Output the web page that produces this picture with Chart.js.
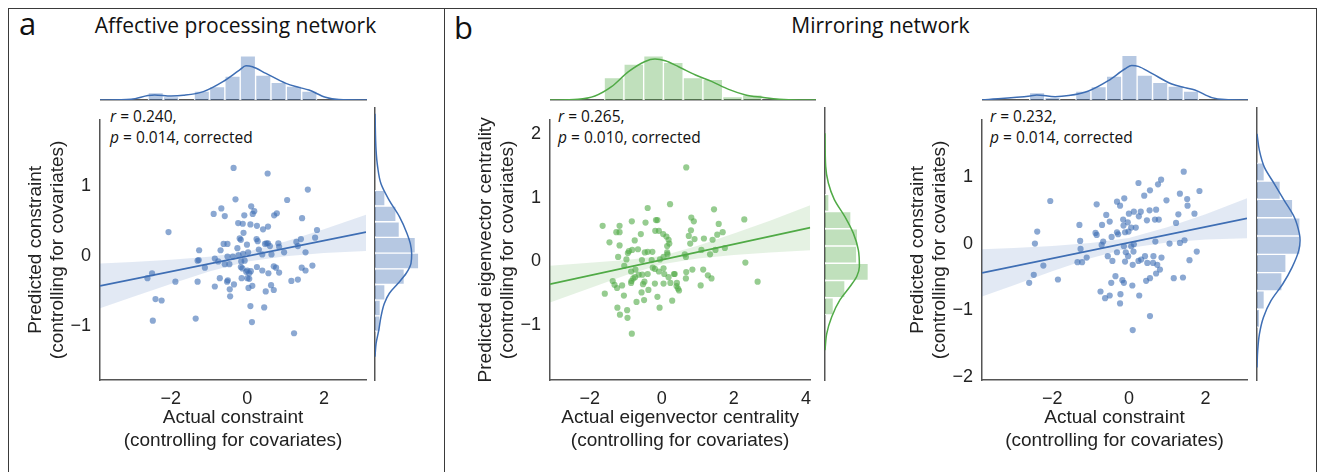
<!DOCTYPE html>
<html>
<head>
<meta charset="utf-8">
<script src="https://cdn.jsdelivr.net/npm/chart.js@4.4.1/dist/chart.umd.min.js"></script>
<style>
  html, body { margin: 0; padding: 0; background: #fff; }
  #fig { position: relative; width: 1317px; height: 472px; overflow: hidden; font-family: "Open Sans", sans-serif; color: #111; }
  canvas { position: absolute; }
  .rule { position: absolute; background: #3a3a3a; }
  .lbl { position: absolute; white-space: nowrap; line-height: 1; }
  .stat { position: absolute; white-space: nowrap; font-size: 15.5px; line-height: 20.6px; color: #111; }
</style>
</head>
<body>
<div id="fig">
  <div class="rule" style="left:8px;top:8px;width:1309px;height:1px"></div>
  <div class="rule" style="left:8px;top:8px;width:1px;height:464px"></div>
  <div class="rule" style="left:444px;top:8px;width:1px;height:464px"></div>
  <div class="rule" style="left:1316px;top:8px;width:1px;height:464px"></div>

  <div class="lbl" style="left:19px;top:8px;font-size:31px">a</div>
  <div class="lbl" style="left:0;width:471px;top:15px;font-size:21px;text-align:center">Affective processing network</div>
  <div class="lbl" style="left:454px;top:12px;font-size:31px">b</div>
  <div class="lbl" style="left:630px;width:501px;top:15px;font-size:21px;text-align:center">Mirroring network</div>

  <div class="stat" style="left:110px;top:106px"><i>r</i> = 0.240,<br><i>p</i> = 0.014, corrected</div>
  <div class="stat" style="left:558px;top:106px"><i>r</i> = 0.265,<br><i>p</i> = 0.010, corrected</div>
  <div class="stat" style="left:990px;top:106px"><i>r</i> = 0.232,<br><i>p</i> = 0.014, corrected</div>

  <canvas id="aMain" width="370" height="360" style="left:0;top:100px"></canvas>
  <canvas id="aTop" width="267" height="52" style="left:100px;top:50px"></canvas>
  <canvas id="aRight" width="49" height="290" style="left:374px;top:100px"></canvas>

  <canvas id="bMain" width="369" height="360" style="left:450px;top:100px"></canvas>
  <canvas id="bTop" width="266" height="52" style="left:550px;top:50px"></canvas>
  <canvas id="bRight" width="49" height="290" style="left:824px;top:100px"></canvas>

  <canvas id="cMain" width="369" height="360" style="left:882px;top:100px"></canvas>
  <canvas id="cTop" width="266" height="52" style="left:982px;top:50px"></canvas>
  <canvas id="cRight" width="49" height="290" style="left:1256px;top:100px"></canvas>
</div>

<script>
// ---- panel a: affective processing network (actual vs predicted constraint) ----
const aDotX = [-0.36,0.53,1.58,-0.31,1.04,-0.68,0.10,0.18,-0.88,-0.59,
  -0.08,0.14,0.70,0.77,1.43,-2.06,-0.24,-0.12,0.08,0.25,
  0.54,0.41,-0.10,1.82,1.77,1.28,1.40,1.32,1.52,-0.20,
  -0.17,-0.62,-0.52,-0.26,-0.01,0.24,0.27,0.46,0.50,0.54,
  0.81,0.83,0.59,0.96,0.30,0.63,0.39,-1.26,-0.70,-0.85,
  -0.52,-0.38,-0.23,-0.11,0.02,-1.27,-1.30,-1.11,-0.76,-0.59,
  -0.47,-0.16,-0.07,-0.17,-0.13,0.00,-0.03,0.09,0.05,0.25,
  0.39,0.55,0.69,0.75,0.83,1.70,1.42,1.52,-0.15,0.00,
  0.05,-0.72,-0.51,-0.53,-0.35,-0.85,-1.30,-1.88,-2.61,-2.49,
  0.03,0.13,0.62,0.69,0.48,-0.46,-0.45,1.15,1.32,-2.40,
  -2.24,0.08,0.44,-2.47,-1.35,0.12,1.22];
const aDotY = [1.26,1.18,0.95,0.81,0.80,0.68,0.71,0.64,0.60,0.57,
  0.58,0.60,0.58,0.61,0.54,0.34,0.47,0.46,0.45,0.43,
  0.42,0.38,0.33,0.37,0.26,0.20,0.24,0.14,0.05,0.25,
  0.23,0.17,0.17,0.11,0.16,0.24,0.21,0.17,0.18,0.18,
  0.18,0.13,0.14,0.05,0.09,0.02,0.02,0.08,0.08,-0.04,
  -0.01,-0.01,0.01,0.03,0.05,-0.06,-0.07,-0.17,-0.08,-0.12,
  -0.12,-0.08,-0.07,-0.16,-0.18,-0.21,-0.23,-0.22,-0.25,-0.16,
  -0.21,-0.25,-0.15,-0.17,-0.24,-0.14,-0.17,-0.21,-0.32,-0.32,
  -0.33,-0.32,-0.35,-0.37,-0.41,-0.44,-0.37,-0.37,-0.32,-0.25,
  -0.46,-0.43,-0.42,-0.49,-0.51,-0.48,-0.58,-0.36,-0.34,-0.62,
  -0.64,-0.72,-0.74,-0.93,-0.90,-0.95,-1.11];
const aFitX = [-3.85, 3.1];
const aFitY = [-0.43, 0.34];
const aBandX = [-3.85, -3, -2, -1, 0, 1, 2, 3.1];
const aBandHi = [-0.11, -0.09, -0.055, -0.014, 0.06, 0.206, 0.38, 0.59];
const aBandLo = [-0.75, -0.59, -0.405, -0.226, -0.08, -0.006, 0.04, 0.07];
const aTopBin = [-2.4, -2.0, -1.6, -1.2, -0.8, -0.4, 0, 0.4, 0.8, 1.2, 1.6];
const aTopDen = [0.055, 0.025, 0, 0.068, 0.10, 0.18, 0.333, 0.188, 0.133, 0.105, 0.068];
const aTopKdeX = [-3.85, -3.04, -2.6, -2.43, -2.0, -1.68, -1.16, -0.65, -0.22, -0.05, 0.12, 0.47, 0.99, 1.33, 1.59, 2.02, 2.37, 2.97, 3.1];
const aTopKdeY = [0, 0.005, 0.033, 0.038, 0.03, 0.035, 0.063, 0.138, 0.225, 0.258, 0.25, 0.2, 0.125, 0.095, 0.075, 0.02, 0.003, 0, 0];
const aSideBin = [0.713, 0.498, 0.283, 0.068, -0.148, -0.363, -0.578, -0.793, -1.008];
const aSideDen = [0.075, 0.158, 0.183, 0.303, 0.328, 0.22, 0.075, 0.04, 0.038];
const aSideKdeY = [1.87, 1.37, 1.14, 0.91, 0.68, 0.46, 0.23, 0.09, -0.05, -0.18, -0.32, -0.46, -0.59, -0.73, -0.91, -1.1, -1.28, -1.46];
const aSideKdeX = [0, 0.008, 0.02, 0.045, 0.108, 0.183, 0.24, 0.265, 0.275, 0.27, 0.233, 0.17, 0.108, 0.07, 0.045, 0.028, 0.008, 0];
const aXTicks = [-2, 0, 2];
const aYTicks = [-1, 0, 1];

// ---- panel b: mirroring network, eigenvector centrality ----
const bDotX = [0.68,0.23,-0.39,1.45,2.29,0.82,0.89,-0.16,-0.12,-0.83,
  -0.45,-1.64,-1.17,1.58,-1.26,-1.17,-0.58,-0.18,-0.08,0.04,
  0.13,0.81,0.75,0.91,1.69,1.54,1.41,1.17,-1.45,-1.17,
  -0.75,0.19,0.21,0.15,0.79,1.75,1.49,1.34,1.10,-0.82,
  -0.66,-0.91,-0.94,-0.47,-0.39,-0.26,0.15,0.16,0.64,0.67,
  -1.21,-0.98,-0.55,-0.28,-0.05,0.05,-0.25,-0.19,-1.04,-0.85,
  -0.73,-0.64,-0.54,-0.39,-0.08,0.05,0.07,0.34,0.36,0.19,
  0.68,0.85,0.67,1.15,1.28,1.38,2.32,2.66,-0.84,-0.85,
  -0.79,-0.74,-1.36,-1.31,-1.10,-1.24,-0.48,-0.52,-0.19,0.05,
  0.24,0.42,0.41,0.45,0.48,1.08,-1.58,-1.05,-0.56,-0.37,
  -0.12,-0.70,-0.49,0.29,-0.06,-1.23,-0.96,-1.16,-0.95,-0.83];
const bDotY = [1.48,0.90,0.84,0.82,0.66,0.69,0.63,0.65,0.65,0.63,
  0.61,0.56,0.56,0.59,0.46,0.46,0.43,0.48,0.48,0.43,
  0.39,0.49,0.40,0.35,0.46,0.42,0.34,0.36,0.30,0.25,
  0.33,0.34,0.28,0.24,0.28,0.21,0.18,0.11,0.18,0.18,
  0.19,0.16,0.13,0.14,0.15,0.15,0.14,0.11,0.11,0.07,
  0.07,0.03,0.02,0.02,0.03,0.07,-0.10,-0.12,-0.07,-0.16,
  -0.13,-0.21,-0.21,-0.20,-0.16,-0.11,-0.20,-0.20,-0.20,-0.25,
  -0.17,-0.13,-0.27,-0.13,-0.22,-0.27,-0.02,-0.32,-0.31,-0.34,
  -0.27,-0.25,-0.31,-0.37,-0.38,-0.42,-0.32,-0.36,-0.35,-0.35,
  -0.34,-0.34,-0.39,-0.43,-0.46,-0.38,-0.51,-0.54,-0.49,-0.45,
  -0.56,-0.64,-0.61,-0.62,-0.73,-0.73,-0.77,-0.84,-0.89,-1.14];
const bFitX = [-3.1, 4.12];
const bFitY = [-0.36, 0.53];
const bBandX = [-3.1, -2, -1, 0, 1, 2, 3, 4.12];
const bBandHi = [-0.07, -0.024, 0.02, 0.085, 0.245, 0.44, 0.64, 0.885];
const bBandLo = [-0.65, -0.424, -0.22, -0.045, 0.045, 0.10, 0.14, 0.175];
const bTopBin = [-1.362, -0.826, -0.29, 0.246, 0.782, 1.318, 1.854, 2.39];
const bTopDen = [0.168, 0.27, 0.333, 0.283, 0.168, 0.155, 0.025, 0.038];
const bTopKdeX = [-3.1, -2.34, -1.88, -1.43, -0.97, -0.52, -0.25, 0.03, 0.39, 0.85, 1.3, 1.75, 2.21, 2.66, 3.12, 3.66, 4.12];
const bTopKdeY = [0, 0.005, 0.03, 0.1, 0.213, 0.29, 0.308, 0.295, 0.25, 0.188, 0.138, 0.08, 0.038, 0.02, 0.005, 0, 0];
const bSideBin = [0.80, 0.54, 0.28, 0.02, -0.24, -0.50, -0.76];
const bSideDen = [0.03, 0.195, 0.245, 0.238, 0.325, 0.15, 0.063];
const bSideKdeY = [1.85, 1.35, 1.10, 0.85, 0.59, 0.34, 0.09, -0.16, -0.31, -0.46, -0.66, -0.92, -1.17, -1.42];
const bSideKdeX = [0, 0.005, 0.025, 0.07, 0.15, 0.213, 0.25, 0.258, 0.238, 0.188, 0.113, 0.05, 0.013, 0];
const bXTicks = [-2, 0, 2, 4];
const bYTicks = [-1, 0, 1, 2];

// ---- panel c: mirroring network, constraint ----
const cDotX = [1.43,0.25,0.84,0.76,0.55,0.40,1.84,1.33,1.52,1.53,
  0.98,-2.05,-0.84,-0.31,-0.12,-0.23,0.00,0.13,0.31,0.54,
  0.71,0.26,-0.15,-0.03,-0.59,-0.50,-0.70,-1.29,0.47,0.68,
  0.78,1.29,1.71,1.23,-0.14,0.06,0.18,-0.01,-0.31,-0.10,
  -0.28,-0.45,-0.87,-0.84,-0.67,-0.71,-1.27,-1.26,-2.39,-2.45,
  -2.23,-2.48,-2.60,-1.85,-1.34,-1.22,-1.10,-0.55,-0.31,-0.43,
  -0.13,-0.08,0.06,0.13,0.12,-0.02,-0.10,0.10,0.25,0.32,
  0.42,0.48,0.64,0.63,0.85,0.74,0.81,0.71,0.69,1.06,
  1.33,1.45,1.77,1.58,1.17,1.41,0.55,0.45,-0.35,-0.17,
  -0.13,-0.46,0.09,-0.74,-0.62,-0.50,-0.22,-0.23,0.27,0.55,0.10];
const cDotY = [1.08,0.91,0.96,0.89,0.80,0.72,0.79,0.75,0.67,0.57,
  0.65,0.64,0.59,0.63,0.68,0.57,0.45,0.48,0.48,0.50,
  0.51,0.41,0.36,0.32,0.43,0.33,0.28,0.28,0.35,0.36,
  0.36,0.44,0.45,0.31,0.27,0.24,0.24,0.18,0.17,0.17,
  0.14,0.10,0.16,0.13,0.03,-0.02,0.04,-0.08,0.18,0.00,
  -0.33,-0.47,-0.59,-0.54,-0.28,-0.28,-0.21,-0.19,-0.13,-0.26,
  -0.04,-0.13,-0.04,-0.01,-0.12,-0.19,-0.27,-0.32,-0.26,-0.24,
  -0.19,-0.29,-0.19,-0.29,-0.21,-0.32,-0.39,-0.45,0.03,0.00,
  0.01,0.05,-0.12,-0.25,-0.52,-0.51,-0.52,-0.56,-0.49,-0.55,
  -0.59,-0.59,-0.63,-0.72,-0.82,-0.78,-0.76,-0.90,-0.78,-1.09,-1.30];
const cFitX = [-3.83, 3.08];
const cFitY = [-0.44, 0.38];
const cBandX = [-3.83, -3, -2, -1, 0, 1, 2, 3.08];
const cBandHi = [-0.085, -0.065, -0.036, 0.008, 0.085, 0.245, 0.44, 0.68];
const cBandLo = [-0.795, -0.625, -0.416, -0.222, -0.065, 0.015, 0.06, 0.08];
const cTopBin = [-2.4, -2.0, -1.6, -1.2, -0.8, -0.4, 0, 0.4, 0.8, 1.2, 1.6];
const cTopDen = [0.055, 0.02, 0, 0.068, 0.10, 0.18, 0.335, 0.188, 0.133, 0.105, 0.068];
const cTopKdeX = [-3.83, -2.58, -2.41, -1.93, -1.58, -1.06, -0.55, -0.11, 0.06, 0.23, 0.58, 1.1, 1.44, 1.7, 2.14, 2.48, 3.08];
const cTopKdeY = [0, 0.03, 0.038, 0.025, 0.033, 0.068, 0.145, 0.235, 0.26, 0.253, 0.2, 0.12, 0.093, 0.075, 0.018, 0.003, 0];
const cSideBin = [0.94, 0.677, 0.414, 0.151, -0.112, -0.375, -0.638, -0.901, -1.164];
const cSideDen = [0.055, 0.175, 0.268, 0.323, 0.323, 0.218, 0.188, 0.055, 0.02];
const cSideKdeY = [1.49, 1.25, 1.01, 0.77, 0.53, 0.29, 0.05, -0.04, -0.19, -0.43, -0.67, -0.91, -1.15, -1.39, -1.63, -1.87];
const cSideKdeX = [0, 0.018, 0.055, 0.13, 0.205, 0.28, 0.318, 0.323, 0.313, 0.263, 0.193, 0.105, 0.048, 0.018, 0.005, 0];
const cXTicks = [-2, 0, 2];
const cYTicks = [-2, -1, 0, 1];

// ---- styling ----
const BLUE = { line: 'rgb(62,110,180)', dot: 'rgba(62,110,180,0.6)', bar: 'rgba(62,110,180,0.38)', band: 'rgba(62,110,180,0.15)' };
const GREEN = { line: 'rgb(80,170,70)', dot: 'rgba(80,170,70,0.6)', bar: 'rgba(80,170,70,0.36)', band: 'rgba(80,170,70,0.15)' };
const AXIS = '#555';
const TXT = '#222';
const TOP_MAX = 0.376;
const SIDE_MAX = 0.36;

const pts = (xs, ys) => xs.map((x, i) => ({ x, y: ys[i] }));
const fmt = v => (v < 0 ? '\u2212' + Math.abs(v) : String(v));
const base = { responsive: false, animation: false, events: [], plugins: { legend: { display: false }, tooltip: { enabled: false } } };

function axis(min, max, ticks, title, dir) {
  return {
    type: 'linear', min, max,
    afterBuildTicks: s => { s.ticks = ticks.map(v => ({ value: v })); },
    afterFit: s => { if (dir === 'x') s.height = 80; else s.width = 100; },
    grid: { display: false, drawTicks: false },
    border: { display: true, color: AXIS, width: 1.5 },
    ticks: { color: TXT, padding: dir === 'x' ? 8 : 9, font: { family: "'Liberation Sans', Arial, sans-serif", size: 18 }, callback: v => fmt(v) },
    title: {
      display: true, text: title, color: TXT,
      font: { family: "'Liberation Sans', Arial, sans-serif", size: 19, lineHeight: 1.2 },
      padding: dir === 'x' ? { top: 0, bottom: 8 } : { top: 24, bottom: 0 }
    }
  };
}

function scatterPanel(id, p, c) {
  new Chart(document.getElementById(id), {
    type: 'scatter',
    data: { datasets: [
      { type: 'line', data: pts(p.bandX, p.bandLo), borderColor: 'transparent', borderWidth: 0, pointRadius: 0, fill: false, order: 3 },
      { type: 'line', data: pts(p.bandX, p.bandHi), borderColor: 'transparent', borderWidth: 0, pointRadius: 0, fill: '-1', backgroundColor: c.band, order: 2 },
      { data: pts(p.x, p.y), backgroundColor: c.dot, borderColor: c.dot, borderWidth: 0, pointRadius: 3.1, order: 1 },
      { type: 'line', data: pts(p.fitX, p.fitY), borderColor: c.line, borderWidth: 1.8, pointRadius: 0, fill: false, order: 0 }
    ]},
    options: Object.assign({}, base, {
      layout: { padding: { top: 8, right: 3, left: 0, bottom: 0 } },
      scales: {
        x: axis(p.xMin, p.xMax, p.xTicks, p.xTitle, 'x'),
        y: axis(p.yMin, p.yMax, p.yTicks, p.yTitle, 'y')
      }
    })
  });
}

function topHist(id, p, c) {
  new Chart(document.getElementById(id), {
    type: 'bar',
    data: { datasets: [
      { type: 'line', data: pts(p.kdeX, p.kdeY), borderColor: c.line, borderWidth: 1.5, pointRadius: 0, cubicInterpolationMode: 'monotone', fill: false, order: 0 },
      { data: pts(p.bins, p.den), backgroundColor: c.bar, borderColor: 'rgba(255,255,255,0.85)', borderWidth: 1, barPercentage: 1, categoryPercentage: 1, order: 1 }
    ]},
    options: Object.assign({}, base, {
      layout: { padding: 0 },
      scales: {
        x: { type: 'linear', offset: false, min: p.min, max: p.max,
             afterBuildTicks: s => { s.ticks = [{ value: p.min }]; }, afterFit: s => { s.height = 2; },
             grid: { display: false, drawTicks: false, offset: false }, border: { display: true, color: AXIS, width: 1.5 }, ticks: { display: false } },
        y: { type: 'linear', display: false, min: 0, max: TOP_MAX }
      }
    })
  });
}

function sideHist(id, p, c) {
  new Chart(document.getElementById(id), {
    type: 'bar',
    data: { datasets: [
      { type: 'line', data: pts(p.kdeX, p.kdeY), borderColor: c.line, borderWidth: 1.5, pointRadius: 0, cubicInterpolationMode: 'monotone', fill: false, order: 0 },
      { data: pts(p.den, p.bins), backgroundColor: c.bar, borderColor: 'rgba(255,255,255,0.85)', borderWidth: 1, barPercentage: 1, categoryPercentage: 1, order: 1 }
    ]},
    options: Object.assign({}, base, {
      indexAxis: 'y',
      layout: { padding: { top: 8, bottom: 10, left: 0, right: 0 } },
      scales: {
        y: { type: 'linear', position: 'left', offset: false, min: p.min, max: p.max,
             afterBuildTicks: s => { s.ticks = [{ value: p.min }]; }, afterFit: s => { s.width = 1; },
             grid: { display: false, drawTicks: false, offset: false }, border: { display: true, color: AXIS, width: 1.5 }, ticks: { display: false } },
        x: { type: 'linear', display: false, min: 0, max: SIDE_MAX }
      }
    })
  });
}

// panel a
scatterPanel('aMain', { x: aDotX, y: aDotY, fitX: aFitX, fitY: aFitY, bandX: aBandX, bandHi: aBandHi, bandLo: aBandLo,
  xMin: -3.85, xMax: 3.1, yMin: -1.78, yMax: 1.95, xTicks: aXTicks, yTicks: aYTicks,
  xTitle: ['Actual constraint', '(controlling for covariates)'], yTitle: ['Predicted constraint', '(controlling for covariates)'] }, BLUE);
topHist('aTop', { bins: aTopBin, den: aTopDen, kdeX: aTopKdeX, kdeY: aTopKdeY, min: -3.85, max: 3.1 }, BLUE);
sideHist('aRight', { bins: aSideBin, den: aSideDen, kdeX: aSideKdeX, kdeY: aSideKdeY, min: -1.78, max: 1.95 }, BLUE);

// panel b
scatterPanel('bMain', { x: bDotX, y: bDotY, fitX: bFitX, fitY: bFitY, bandX: bBandX, bandHi: bBandHi, bandLo: bBandLo,
  xMin: -3.1, xMax: 4.12, yMin: -1.87, yMax: 2.23, xTicks: bXTicks, yTicks: bYTicks,
  xTitle: ['Actual eigenvector centrality', '(controlling for covariates)'], yTitle: ['Predicted eigenvector centrality', '(controlling for covariates)'] }, GREEN);
topHist('bTop', { bins: bTopBin, den: bTopDen, kdeX: bTopKdeX, kdeY: bTopKdeY, min: -3.1, max: 4.12 }, GREEN);
sideHist('bRight', { bins: bSideBin, den: bSideDen, kdeX: bSideKdeX, kdeY: bSideKdeY, min: -1.87, max: 2.23 }, GREEN);

// panel c
scatterPanel('cMain', { x: cDotX, y: cDotY, fitX: cFitX, fitY: cFitY, bandX: cBandX, bandHi: cBandHi, bandLo: cBandLo,
  xMin: -3.83, xMax: 3.08, yMin: -2.05, yMax: 1.86, xTicks: cXTicks, yTicks: cYTicks,
  xTitle: ['Actual constraint', '(controlling for covariates)'], yTitle: ['Predicted constraint', '(controlling for covariates)'] }, BLUE);
topHist('cTop', { bins: cTopBin, den: cTopDen, kdeX: cTopKdeX, kdeY: cTopKdeY, min: -3.83, max: 3.08 }, BLUE);
sideHist('cRight', { bins: cSideBin, den: cSideDen, kdeX: cSideKdeX, kdeY: cSideKdeY, min: -2.05, max: 1.86 }, BLUE);
</script>
</body>
</html>
